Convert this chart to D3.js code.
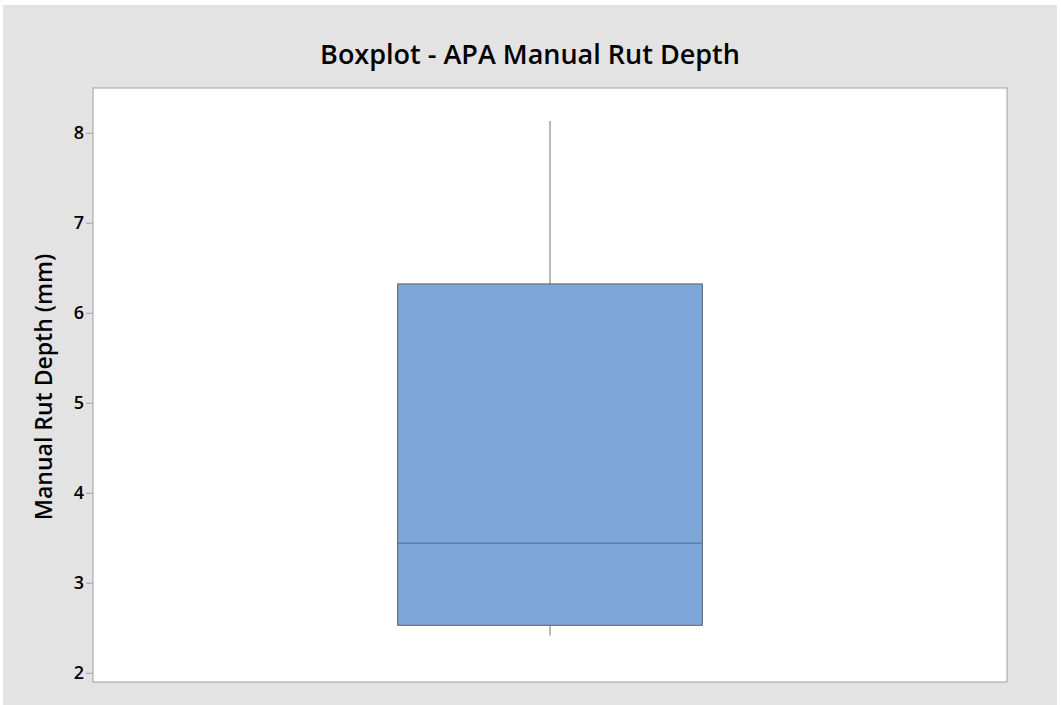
<!DOCTYPE html>
<meta charset="utf-8">
<style>
  body { margin: 0; background: #fff; }
  .title { font-family: "Open Sans", sans-serif; font-weight: 600; font-size: 27px; fill: #000; }
  .ylabel { font-family: "Open Sans", sans-serif; font-weight: 600; font-size: 23px; fill: #000; }
  .axis text { font-family: "Open Sans", sans-serif; font-weight: 600; font-size: 18px; fill: #000; }
  .axis path, .axis line { stroke: #a0a0a0; }
</style>
<body>
<script src="https://d3js.org/d3.v7.min.js"></script>
<script>
  // five number summary
  var stats = ["min", "q1", "median", "q3", "max"];
  var values = [2.415, 2.527, 3.44, 6.32, 8.13];
  var yTicks = [2, 3, 4, 5, 6, 7, 8];
  var yDomain = [1.897, 8.497];

  var W = 1061, H = 705;
  var margin = { top: 88, right: 54, bottom: 23, left: 93 },
    width = W - margin.left - margin.right,
    height = H - margin.top - margin.bottom;

  var svg = d3.select("body").append("svg")
    .attr("width", W)
    .attr("height", H);

  // grey frame
  svg.append("rect")
    .attr("x", 3).attr("y", 5)
    .attr("width", 1054).attr("height", 700)
    .attr("fill", "#e3e3e3");

  svg.append("text")
    .attr("class", "title")
    .attr("x", 530).attr("y", 64)
    .attr("text-anchor", "middle")
    .text("Boxplot - APA Manual Rut Depth");

  var g = svg.append("g")
    .attr("transform", "translate(" + margin.left + "," + margin.top + ")");

  g.append("rect")
    .attr("width", width).attr("height", height)
    .attr("fill", "#fff")
    .attr("stroke", "#a0a0a0");

  var y = d3.scaleLinear().domain(yDomain).range([height, 0]);

  var s = {};
  stats.forEach(function (k, i) { s[k] = values[i]; });

  var yAxis = g.append("g")
    .attr("class", "axis")
    .call(d3.axisLeft(y).tickValues(yTicks).tickSize(7).tickPadding(2).tickFormat(d3.format("d")));
  yAxis.select(".domain").remove();

  var cx = width / 2;
  var bw = width / 3;

  // whiskers
  g.append("line")
    .attr("x1", cx).attr("x2", cx)
    .attr("y1", y(s.max)).attr("y2", y(s.q3))
    .attr("stroke", "#8c8c8c").attr("stroke-width", 1.2);
  g.append("line")
    .attr("x1", cx).attr("x2", cx)
    .attr("y1", y(s.q1)).attr("y2", y(s.min))
    .attr("stroke", "#8c8c8c").attr("stroke-width", 1.2);

  // box
  g.append("rect")
    .attr("x", cx - bw / 2)
    .attr("y", y(s.q3))
    .attr("width", bw)
    .attr("height", y(s.q1) - y(s.q3))
    .attr("fill", "#7da7d9")
    .attr("stroke", "#5a5f66")
    .attr("stroke-width", 1);

  g.append("line")
    .attr("x1", cx - bw / 2).attr("x2", cx + bw / 2)
    .attr("y1", y(s.median)).attr("y2", y(s.median))
    .attr("stroke", "#5a6a80").attr("stroke-width", 1);

  svg.append("text")
    .attr("class", "ylabel")
    .attr("transform", "translate(52," + 387 + ") rotate(-90)")
    .attr("text-anchor", "middle")
    .text("Manual Rut Depth (mm)");
</script>
</body>
